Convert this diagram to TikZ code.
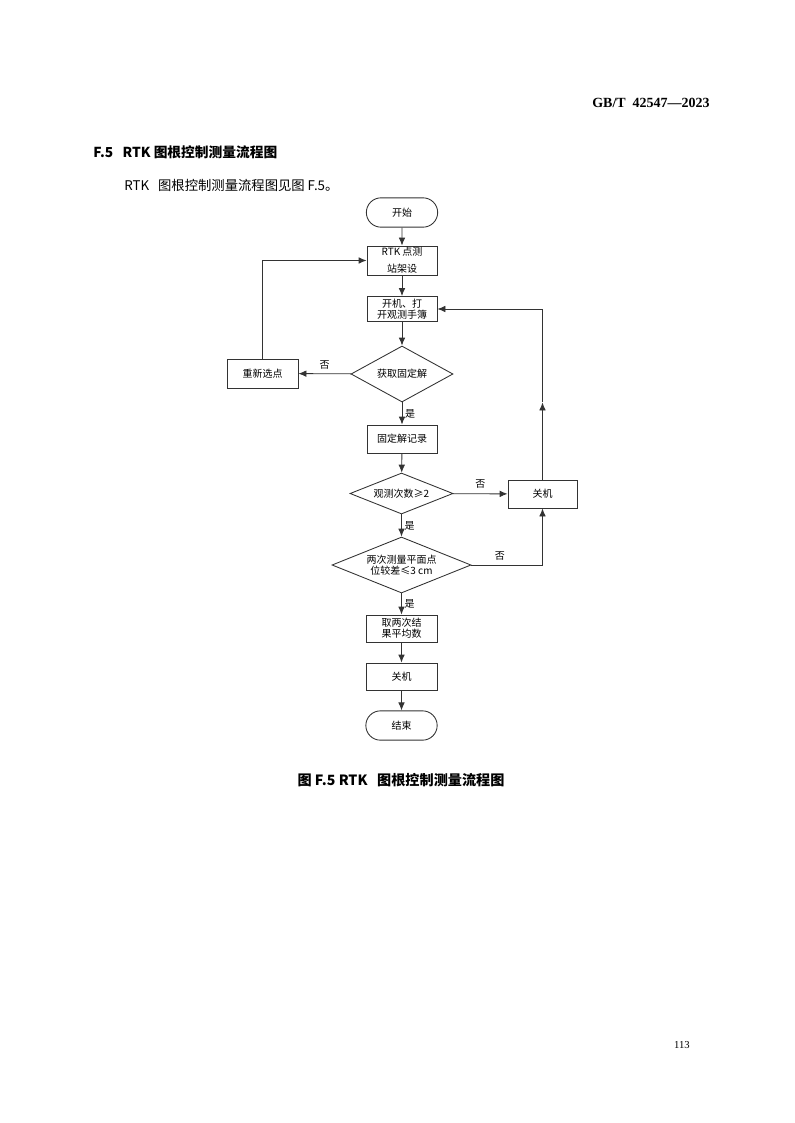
\documentclass[tikz,border=0pt]{standalone}
\usepackage{fontspec}
\setmainfont{Liberation Serif}
\newfontfamily\cjk{Noto Sans CJK SC}
\usetikzlibrary{shapes.geometric,shapes.misc,arrows.meta}

\tikzset{
  boxfont/.style={font=\cjk\fontsize{7.5}{8.5}\selectfont},
  term/.style={boxfont, draw=black!80, line width=0.65pt, rounded rectangle,
    minimum width=53.5pt, minimum height=22pt, inner sep=0pt},
  proc/.style={boxfont, draw=black!80, line width=0.65pt, rectangle, align=center,
    minimum width=52.5pt, minimum height=21pt, inner sep=0pt},
  decide/.style={boxfont, draw=black!80, line width=0.65pt, diamond, shape aspect=2.5,
    align=center, inner sep=0pt},
  line/.style={draw=black!80, line width=0.65pt, -{Latex[length=6pt,width=5pt]}},
  yesno/.style={font=\cjk\fontsize{7.5}{8}\selectfont, inner sep=0pt},
}

\begin{document}
\begin{tikzpicture}[x=0.75pt, y=-0.75pt]
  \useasboundingbox (0,0) rectangle (794,1123);

  % page text
  \node[anchor=east, inner sep=0pt, font=\bfseries\fontsize{10.5}{12}\selectfont] (docno) at (710,103) {GB/T\ \ 42547—2023};
  \node[anchor=west, inner sep=0pt, font=\cjk\bfseries\fontsize{10.3}{12}\selectfont] (sect) at (93,152) {F.5\ \ \ RTK 图根控制测量流程图};
  \node[anchor=west, inner sep=0pt, font=\cjk\fontsize{10}{12}\selectfont] (intro) at (124,185) {RTK\ \ \ 图根控制测量流程图见图 F.5。};
  \node[font=\cjk\bfseries\fontsize{10.6}{12}\selectfont] (caption) at (401,780) {图\ F.5 RTK\ \ \ 图根控制测量流程图};
  \node[anchor=east, inner sep=0pt, font=\fontsize{8}{10}\selectfont] (page) at (690,1045) {113};

  % flow chart
  \node[term] (start) at (402,212.5) {开始};
  \node[proc, minimum height=21.75pt] (rtk) at (402,260.5) {RTK 点测\\[4pt]站架设};
  \node[proc, minimum height=18.75pt] (hand) at (402,309) {开机、打\\开观测手簿};
  \node[decide, minimum width=76.5pt, minimum height=42pt] (fix) at (402,374) {获取固定解};
  \node[proc, minimum width=53.25pt, minimum height=21.75pt] (reselect) at (262.5,373.5) {重新选点};
  \node[proc] (record) at (402,439) {固定解记录};
  \node[decide, minimum width=77.25pt, minimum height=30.75pt] (count) at (401.5,493.5) {观测次数≥2};
  \node[proc, minimum width=51.75pt] (off1) at (542.5,494) {关机};
  \node[decide, minimum width=104.25pt, minimum height=42pt] (diff) at (401.5,565) {两次测量平面点\\位较差≤3 cm};
  \node[proc, minimum width=53.25pt, minimum height=20.25pt] (mean) at (401.5,628.5) {取两次结\\果平均数};
  \node[proc, minimum width=53.25pt, minimum height=20.25pt] (off2) at (401.5,676.5) {关机};
  \node[term] (stop) at (401.5,725.5) {结束};

  \draw[line] (start) -- (rtk);
  \draw[line] (rtk) -- (hand);
  \draw[line] (hand) -- (fix);
  \draw[line] (fix) -- node[yesno, above, pos=0.5, yshift=3pt] {否} (reselect);
  \draw[line] (reselect) |- (rtk);
  \draw[line] (fix) -- node[yesno, right, xshift=2pt] {是} (record);
  \draw[line] (record) -- (count);
  \draw[line] (count) -- node[yesno, above, yshift=4pt] {否} (off1);
  \draw[line] (count) -- node[yesno, right, xshift=2pt] {是} (diff);
  \draw[line] (diff) -| node[yesno, above, pos=0.2, yshift=3pt] {否} (off1);
  \draw[line] (diff) -- node[yesno, right, xshift=2pt] {是} (mean);
  \draw[line] (mean) -- (off2);
  \draw[line] (off2) -- (stop);
  \coordinate (up) at (off1.north |- fix.south);
  \draw[line] (off1) -- (up);
  \draw[line] (up) |- (hand);
\end{tikzpicture}
\end{document}
